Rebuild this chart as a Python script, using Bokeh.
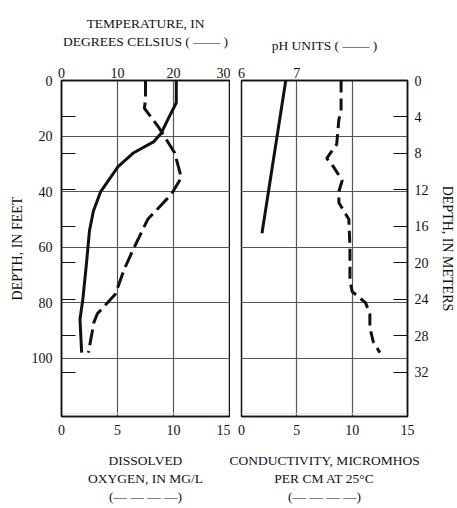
from bokeh.plotting import figure
from bokeh.models import Range1d, LinearAxis, FixedTicker, Grid
from bokeh.layouts import row
from bokeh.embed import file_html
from bokeh.resources import INLINE

# ---- data (depth in feet) ----
FEET_MAX = 121
FT_PER_M = 3.28084

depth_temp = [0, 8, 14, 19, 22, 26, 31, 40, 47, 54, 65, 79, 86, 98]
temp_c = [20.5, 20.5, 19.0, 17.8, 16.5, 12.9, 10.1, 7.0, 5.7, 5.0, 4.5, 3.8, 3.3, 3.6]

depth_do = [0, 7, 10, 17, 26, 35, 41, 50, 60, 68, 77, 84, 87, 98]
do_mgl = [7.5, 7.5, 7.4, 8.7, 10.1, 10.7, 9.8, 7.7, 6.5, 5.6, 4.8, 3.2, 2.9, 2.4]

depth_ph = [0, 55]
ph_units = [6.8, 6.37]

depth_cond = [0, 11, 14, 23, 28, 31, 36, 40, 44, 50, 60, 72, 76, 80, 84, 89, 94, 98]
cond = [9.0, 9.0, 8.8, 8.6, 7.7, 8.3, 9.1, 8.8, 8.8, 9.7, 9.8, 9.8, 10.0, 11.2, 11.6, 11.6, 11.9, 12.5]

feet_ticks = [0, 20, 40, 60, 80, 100]
meter_ticks = [0, 4, 8, 12, 16, 20, 24, 28, 32]
temp_ticks = [0, 10, 20, 30]
ph_ticks = [6, 7]
do_ticks = [0, 5, 10, 15]
cond_ticks = [0, 5, 10, 15]

FONT = "Liberation Serif"
INK = "#111111"
GRID = "#555555"


def style_axis(ax, label_size="13.5px"):
    ax.axis_line_color = INK
    ax.axis_line_width = 1.5
    ax.major_label_text_font = FONT
    ax.major_label_text_font_size = "14px"
    ax.major_label_text_color = INK
    ax.axis_label_text_font = FONT
    ax.axis_label_text_font_size = label_size
    ax.axis_label_text_font_style = "normal"
    ax.axis_label_text_color = INK
    ax.major_tick_in = 0
    ax.major_tick_out = 0
    ax.minor_tick_in = 0
    ax.minor_tick_out = 0
    ax.major_tick_line_color = INK
    ax.minor_tick_line_color = INK
    ax.major_label_standoff = 4


def base(width, left, right):
    p = figure(width=width, height=506, x_range=Range1d(0, 15),
               y_range=Range1d(FEET_MAX, 0), output_backend="svg",
               toolbar_location=None, y_axis_location=None,
               min_border_left=left, min_border_right=right,
               min_border_top=80, min_border_bottom=90)
    p.outline_line_color = INK
    p.outline_line_width = 1.5
    p.background_fill_color = "white"
    p.border_fill_color = "white"
    p.xgrid.grid_line_color = GRID
    p.xgrid.grid_line_width = 1.2
    p.add_layout(Grid(dimension=1, ticker=FixedTicker(ticks=feet_ticks),
                      grid_line_color=GRID, grid_line_width=1.2))
    return p


# ---- left panel: temperature / dissolved oxygen ----
p1 = base(230, 61, 1)
p1.extra_x_ranges = {"temp": Range1d(0, 30)}

xb = p1.xaxis[0]
xb.ticker = FixedTicker(ticks=do_ticks)
xb.axis_label = "DISSOLVED\nOXYGEN, IN MG/L\n(— — — —)"
style_axis(xb)
xb.major_label_standoff = 8
xb.axis_label_standoff = 15

ya = LinearAxis(ticker=FixedTicker(ticks=feet_ticks,
                                   minor_ticks=[m * FT_PER_M for m in meter_ticks[1:]]),
                axis_label="DEPTH, IN FEET")
style_axis(ya, "14px")
ya.minor_tick_in = 14
ya.major_label_standoff = 9
ya.axis_label_standoff = 4
p1.add_layout(ya, "left")

ta = LinearAxis(x_range_name="temp", ticker=FixedTicker(ticks=temp_ticks),
                axis_label="TEMPERATURE, IN\nDEGREES CELSIUS ( —— )")
style_axis(ta)
ta.major_label_standoff = 3
ta.axis_label_standoff = 16
p1.add_layout(ta, "above")

p1.line(temp_c, depth_temp, x_range_name="temp", line_color=INK, line_width=3)
p1.line(do_mgl, depth_do, line_color=INK, line_width=3, line_dash="16 6")

# ---- right panel: pH / conductivity ----
p2 = base(227, 11, 47)
p2.extra_x_ranges = {"ph": Range1d(6, 9)}
p2.extra_y_ranges = {"m": Range1d(FEET_MAX / FT_PER_M, 0)}

xb2 = p2.xaxis[0]
xb2.ticker = FixedTicker(ticks=cond_ticks)
xb2.axis_label = "CONDUCTIVITY, MICROMHOS\nPER CM AT 25°C\n(— — — —)"
style_axis(xb2)
xb2.major_label_standoff = 8
xb2.axis_label_standoff = 15

ta2 = LinearAxis(x_range_name="ph", ticker=FixedTicker(ticks=ph_ticks),
                 axis_label="pH UNITS ( —— )")
style_axis(ta2)
ta2.major_label_standoff = 3
ta2.axis_label_standoff = 12
p2.add_layout(ta2, "above")

ra = LinearAxis(y_range_name="m", ticker=FixedTicker(ticks=meter_ticks),
                axis_label="DEPTH, IN METERS")
style_axis(ra, "14px")
ra.major_tick_in = 14
ra.major_label_standoff = 7
ra.axis_label_standoff = 8
ra.axis_label_orientation = "vertical"
p2.add_layout(ra, "right")

p2.line(ph_units, depth_ph, x_range_name="ph", line_color=INK, line_width=3)
p2.line(cond, depth_cond, line_color=INK, line_width=3, line_dash="12 6")

layout = row(p1, p2)
open("out.html", "w").write(file_html(layout, INLINE))
